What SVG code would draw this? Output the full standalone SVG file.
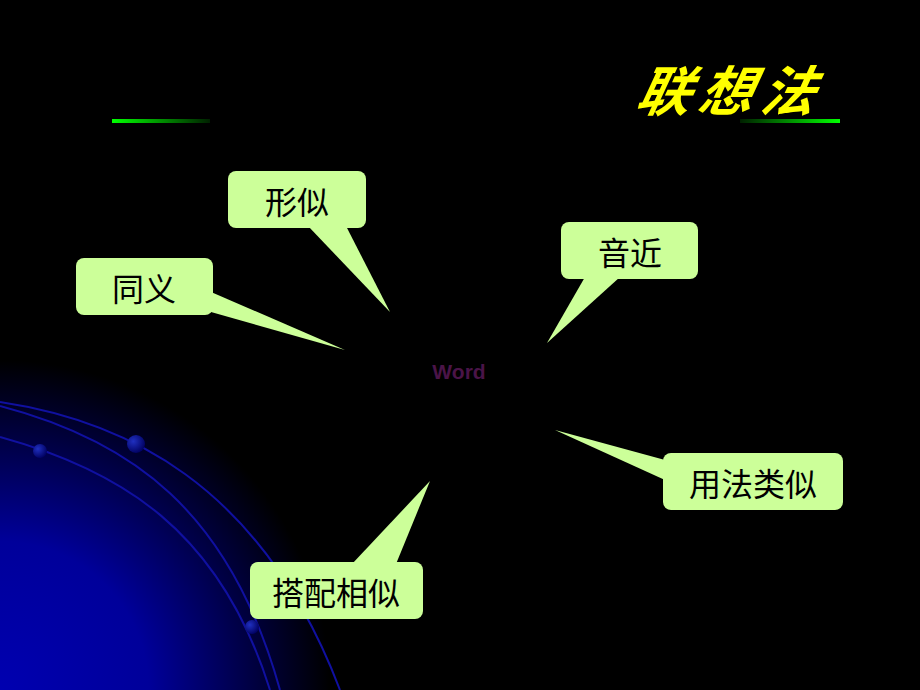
<svg xmlns="http://www.w3.org/2000/svg" width="920" height="690" viewBox="0 0 920 690">
<defs>
<radialGradient id="bg" cx="0" cy="690" r="330" gradientUnits="userSpaceOnUse">
<stop offset="0" stop-color="#0000b0"/><stop offset="0.45" stop-color="#00009a"/><stop offset="1" stop-color="#000000"/>
</radialGradient>
<linearGradient id="gl" x1="0" x2="1"><stop offset="0" stop-color="#00ff00"/><stop offset="1" stop-color="#002000"/></linearGradient>
<linearGradient id="gr" x1="1" x2="0"><stop offset="0" stop-color="#00ff00"/><stop offset="1" stop-color="#002000"/></linearGradient>
<radialGradient id="ball" cx="0.35" cy="0.35" r="0.7"><stop offset="0" stop-color="#2030c0"/><stop offset="1" stop-color="#000060"/></radialGradient>
<style>
.b{fill:#ccff99;stroke:none}
.t{font-family:"Noto Sans CJK SC",sans-serif;font-size:32px;fill:#000;text-anchor:middle}
.arc{fill:none;stroke:#1010a0;stroke-width:2}
</style>
</defs>
<rect width="920" height="690" fill="#000"/>
<rect width="920" height="690" fill="url(#bg)"/>
<g id="arcs">
<path class="arc" d="M0,402 C120,420 260,480 340,690"/>
<path class="arc" d="M0,406 C130,440 230,510 280,690"/>
<path class="arc" d="M0,437 C120,470 220,530 270,690"/>
<circle cx="136" cy="444" r="9" fill="url(#ball)"/>
<circle cx="40" cy="451" r="7" fill="url(#ball)"/>
<circle cx="252" cy="627" r="7" fill="url(#ball)"/>
</g>
<rect x="112" y="119" width="98" height="4" fill="url(#gl)"/>
<rect x="740" y="119" width="100" height="4" fill="url(#gr)"/>
<text x="727" y="111" font-family="Noto Sans CJK SC,sans-serif" font-size="54" font-style="italic" font-weight="bold" fill="#ffff00" text-anchor="middle" letter-spacing="8" transform="skewX(-12) translate(0,0)" style="transform-origin:727px 111px">联想法</text>
<text x="459" y="379" font-family="Liberation Sans,sans-serif" font-size="21" font-weight="bold" fill="#4a1448" text-anchor="middle">Word</text>
<g id="connectors">
<polygon class="b" points="308,226 346,226 390,312"/>
<polygon class="b" points="211,292 211,312 345,350"/>
<polygon class="b" points="585,277 620,277 547,343"/>
<polygon class="b" points="665,460 665,480 555,430"/>
<polygon class="b" points="352,564 396,564 430,481"/>
</g>
<g id="n1"><rect class="b" x="228" y="171" width="138" height="57" rx="8"/><text class="t" x="297" y="214">形似</text></g>
<g id="n2"><rect class="b" x="76" y="258" width="137" height="57" rx="8"/><text class="t" x="144" y="301">同义</text></g>
<g id="n3"><rect class="b" x="561" y="222" width="137" height="57" rx="8"/><text class="t" x="630" y="265">音近</text></g>
<g id="n4"><rect class="b" x="663" y="453" width="180" height="57" rx="8"/><text class="t" x="753" y="496">用法类似</text></g>
<g id="n5"><rect class="b" x="250" y="562" width="173" height="57" rx="8"/><text class="t" x="336" y="605">搭配相似</text></g>
</svg>
